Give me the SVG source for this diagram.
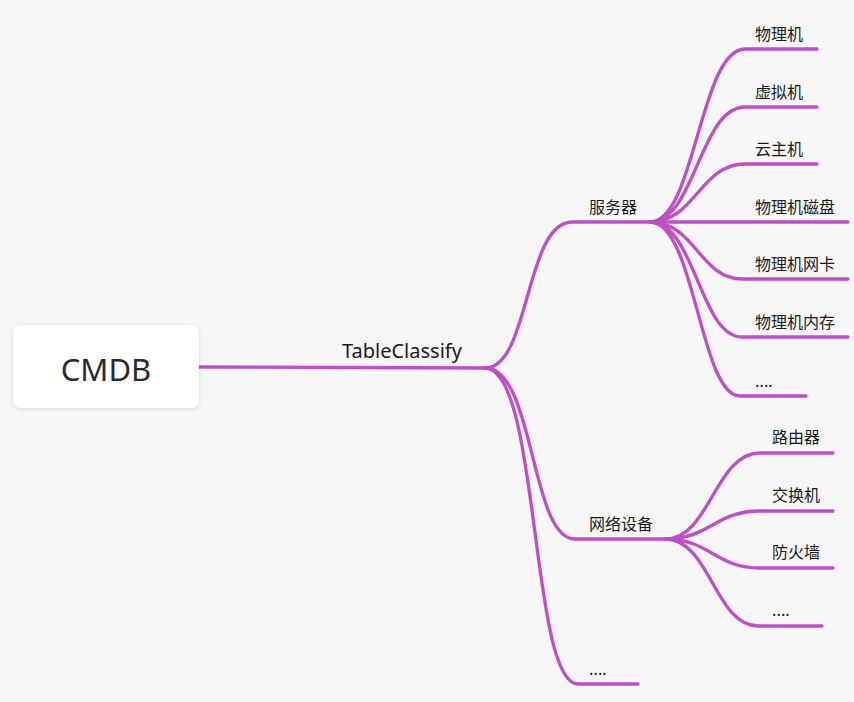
<svg xmlns="http://www.w3.org/2000/svg" width="854" height="702" viewBox="0 0 854 702">
<defs>
<filter id="sh" x="-20%" y="-20%" width="140%" height="150%">
<feDropShadow dx="0" dy="1" stdDeviation="2" flood-color="#000" flood-opacity="0.12"/>
</filter>
<style>
.c{fill:none;stroke:#bf4ec8;stroke-width:3.3;stroke-linecap:round}
.t{font-family:"Noto Sans CJK SC","Noto Sans",sans-serif;font-size:16px;fill:#1a1a1a}
.m{font-family:"Noto Sans","Noto Sans CJK SC",sans-serif;font-size:20px;fill:#1a1a1a}
</style>
</defs>
<rect width="854" height="702" fill="#f7f7f7"/>
<g id="connectors">
<path class="c" d="M199 367 L485 368"/>
<path class="c" d="M485 368 C530 368 525 222 572 222 H650"/>
<path class="c" d="M485 368 C535 368 530 539 575 539 H677"/>
<path class="c" d="M485 368 C540 368 530 684 578 684 H638"/>
<path class="c" d="M650 222 C695 222 700 49 745 49 H817"/>
<path class="c" d="M650 222 C695 222 700 107 745 107 H817"/>
<path class="c" d="M650 222 C695 222 700 164 745 164 H817"/>
<path class="c" d="M650 222 H848"/>
<path class="c" d="M650 222 C695 222 700 279 742 279 H848"/>
<path class="c" d="M650 222 C695 222 700 337 742 337 H848"/>
<path class="c" d="M650 222 C695 222 700 396 740 396 H806"/>
<path class="c" d="M665 539 C710 539 715 453 760 453 H833"/>
<path class="c" d="M665 539 C710 539 715 511 760 511 H833"/>
<path class="c" d="M665 539 C710 539 715 568 760 568 H833"/>
<path class="c" d="M665 539 C710 539 715 626 758 626 H822"/>
</g>
<g id="root">
<rect x="13" y="325" width="186" height="83" rx="8" fill="#fff" filter="url(#sh)"/>
<text x="106" y="381" text-anchor="middle" font-family="Noto Sans,Liberation Sans,sans-serif" font-size="31" fill="#2b2b2b">CMDB</text>
</g>
<g id="tableclassify"><text class="m" x="342" y="358">TableClassify</text></g>
<g id="server"><text class="t" x="589" y="213">服务器</text></g>
<g id="network"><text class="t" x="589" y="530">网络设备</text></g>
<g id="more1"><text class="t" x="589" y="675">....</text></g>
<g id="s1"><text class="t" x="755" y="40">物理机</text></g>
<g id="s2"><text class="t" x="755" y="98">虚拟机</text></g>
<g id="s3"><text class="t" x="755" y="155">云主机</text></g>
<g id="s4"><text class="t" x="755" y="213">物理机磁盘</text></g>
<g id="s5"><text class="t" x="755" y="270">物理机网卡</text></g>
<g id="s6"><text class="t" x="755" y="328">物理机内存</text></g>
<g id="s7"><text class="t" x="755" y="387">....</text></g>
<g id="n1"><text class="t" x="772" y="443">路由器</text></g>
<g id="n2"><text class="t" x="772" y="501">交换机</text></g>
<g id="n3"><text class="t" x="772" y="558">防火墙</text></g>
<g id="n4"><text class="t" x="772" y="616">....</text></g>
</svg>
